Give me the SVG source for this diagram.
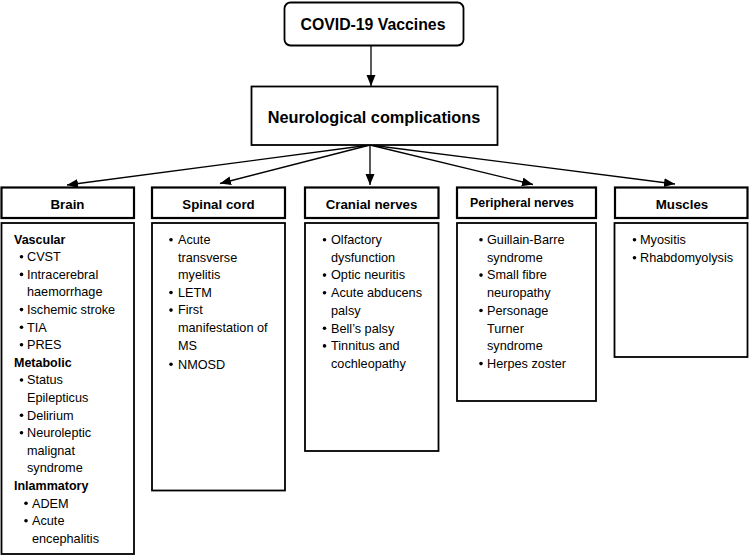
<svg xmlns="http://www.w3.org/2000/svg" width="749" height="556" viewBox="0 0 749 556">
<defs>
<style>
.box{fill:#fff;stroke:#000;stroke-width:1.8}
.hd{fill:#fff;stroke:#000;stroke-width:2.2}
.t{font-family:"Liberation Sans",Arial,sans-serif;font-size:12.7px;fill:#000}
.bt{font-family:"Liberation Sans",Arial,sans-serif;font-size:12.5px;font-weight:bold;fill:#000}
.h{font-family:"Liberation Sans",Arial,sans-serif;font-size:13.3px;font-weight:bold;fill:#000;text-anchor:middle}
.b{fill:#000}
.c{stroke:#000;stroke-width:1.3;fill:none;marker-end:url(#ah)}
</style>
<marker id="ah" markerUnits="userSpaceOnUse" markerWidth="12" markerHeight="10" refX="11" refY="4.5" orient="auto">
<path d="M0,0 L11,4.5 L0,9 z" fill="#000"/>
</marker>
</defs>
<rect width="749" height="556" fill="#fff"/>

<g id="connectors">
<line class="c" x1="371" y1="45" x2="371" y2="86"/>
<line class="c" x1="370" y1="145" x2="67" y2="185"/>
<line class="c" x1="370" y1="145" x2="220" y2="183.5"/>
<line class="c" x1="370" y1="145" x2="370" y2="185"/>
<line class="c" x1="370" y1="145" x2="533" y2="184.5"/>
<line class="c" x1="370" y1="145" x2="675" y2="184"/>
</g>

<g id="covid">
<rect class="box" x="284.5" y="2.5" width="179" height="43" rx="6"/>
<text x="373" y="30" font-family="Liberation Sans,Arial,sans-serif" font-size="15.8" font-weight="bold" text-anchor="middle">COVID-19 Vaccines</text>
</g>

<g id="neuro">
<rect class="box" x="251.5" y="86.5" width="246" height="58.5"/>
<text x="374" y="123" font-family="Liberation Sans,Arial,sans-serif" font-size="16.3" font-weight="bold" text-anchor="middle">Neurological complications</text>
</g>

<g id="brain">
<rect class="hd" x="1.5" y="187.5" width="132.5" height="30.5"/>
<text class="h" x="67.5" y="209">Brain</text>
<rect class="box" x="1.5" y="223" width="132.5" height="331"/>
<text class="bt" x="14" y="243.5">Vascular</text>
<circle class="b" cx="21.5" cy="256.8" r="1.8"/><text class="t" x="27" y="261.1">CVST</text>
<circle class="b" cx="21.5" cy="274.4" r="1.8"/><text class="t" x="27" y="278.7">Intracerebral</text>
<text class="t" x="27" y="296.3">haemorrhage</text>
<circle class="b" cx="21.5" cy="309.6" r="1.8"/><text class="t" x="27" y="313.9">Ischemic stroke</text>
<circle class="b" cx="21.5" cy="327.2" r="1.8"/><text class="t" x="27" y="331.5">TIA</text>
<circle class="b" cx="21.5" cy="344.8" r="1.8"/><text class="t" x="27" y="349.1">PRES</text>
<text class="bt" x="14" y="366.7">Metabolic</text>
<circle class="b" cx="21.5" cy="380" r="1.8"/><text class="t" x="27" y="384.3">Status</text>
<text class="t" x="27" y="401.9">Epilepticus</text>
<circle class="b" cx="21.5" cy="415.2" r="1.8"/><text class="t" x="27" y="419.5">Delirium</text>
<circle class="b" cx="21.5" cy="432.8" r="1.8"/><text class="t" x="27" y="437.1">Neuroleptic</text>
<text class="t" x="27" y="454.7">malignat</text>
<text class="t" x="27" y="472.3">syndrome</text>
<text class="bt" x="14" y="489.9">Inlammatory</text>
<circle class="b" cx="26" cy="503.2" r="1.8"/><text class="t" x="32" y="507.5">ADEM</text>
<circle class="b" cx="26" cy="520.8" r="1.8"/><text class="t" x="32" y="525.1">Acute</text>
<text class="t" x="32" y="542.7">encephalitis</text>
</g>

<g id="spinal">
<rect class="hd" x="152" y="187.5" width="133" height="30.5"/>
<text class="h" x="218.5" y="209">Spinal cord</text>
<rect class="box" x="152" y="223" width="133" height="267.5"/>
<circle class="b" cx="171" cy="239.7" r="1.8"/><text class="t" x="178" y="244">Acute</text>
<text class="t" x="178" y="261.6">transverse</text>
<text class="t" x="178" y="279.2">myelitis</text>
<circle class="b" cx="171" cy="292.5" r="1.8"/><text class="t" x="178" y="296.8">LETM</text>
<circle class="b" cx="171" cy="310.1" r="1.8"/><text class="t" x="178" y="314.4">First</text>
<text class="t" x="178" y="332">manifestation of</text>
<text class="t" x="178" y="349.6">MS</text>
<circle class="b" cx="171" cy="364.2" r="1.8"/><text class="t" x="178" y="368.5">NMOSD</text>
</g>

<g id="cranial">
<rect class="hd" x="305" y="187.5" width="133.5" height="30.5"/>
<text class="h" x="371.5" y="209">Cranial nerves</text>
<rect class="box" x="305" y="223" width="133.5" height="228"/>
<circle class="b" cx="324.5" cy="239.7" r="1.8"/><text class="t" x="331" y="244">Olfactory</text>
<text class="t" x="331" y="261.7">dysfunction</text>
<circle class="b" cx="324.5" cy="275.1" r="1.8"/><text class="t" x="331" y="279.4">Optic neuritis</text>
<circle class="b" cx="324.5" cy="292.8" r="1.8"/><text class="t" x="331" y="297.1">Acute abducens</text>
<text class="t" x="331" y="314.8">palsy</text>
<circle class="b" cx="324.5" cy="328.2" r="1.8"/><text class="t" x="331" y="332.5">Bell’s palsy</text>
<circle class="b" cx="324.5" cy="345.9" r="1.8"/><text class="t" x="331" y="350.2">Tinnitus and</text>
<text class="t" x="331" y="367.9">cochleopathy</text>
</g>

<g id="peripheral">
<rect class="hd" x="457" y="187.5" width="139" height="30.5"/>
<text class="h" x="522" y="207" style="font-size:12.4px">Peripheral nerves</text>
<rect class="box" x="457" y="223" width="139" height="178"/>
<circle class="b" cx="481" cy="239.7" r="1.8"/><text class="t" x="487" y="244">Guillain-Barre</text>
<text class="t" x="487" y="261.7">syndrome</text>
<circle class="b" cx="481" cy="275.1" r="1.8"/><text class="t" x="487" y="279.4">Small fibre</text>
<text class="t" x="487" y="297.1">neuropathy</text>
<circle class="b" cx="481" cy="310.5" r="1.8"/><text class="t" x="487" y="314.8">Personage</text>
<text class="t" x="487" y="332.5">Turner</text>
<text class="t" x="487" y="350.2">syndrome</text>
<circle class="b" cx="481" cy="363.6" r="1.8"/><text class="t" x="487" y="367.9">Herpes zoster</text>
</g>

<g id="muscles">
<rect class="hd" x="615" y="187.5" width="132.5" height="30.5"/>
<text class="h" x="682" y="209">Muscles</text>
<rect class="box" x="614.5" y="223" width="133" height="134"/>
<circle class="b" cx="634.5" cy="239.7" r="1.8"/><text class="t" x="640" y="244">Myositis</text>
<circle class="b" cx="634.5" cy="257.7" r="1.8"/><text class="t" x="640" y="262">Rhabdomyolysis</text>
</g>
</svg>
